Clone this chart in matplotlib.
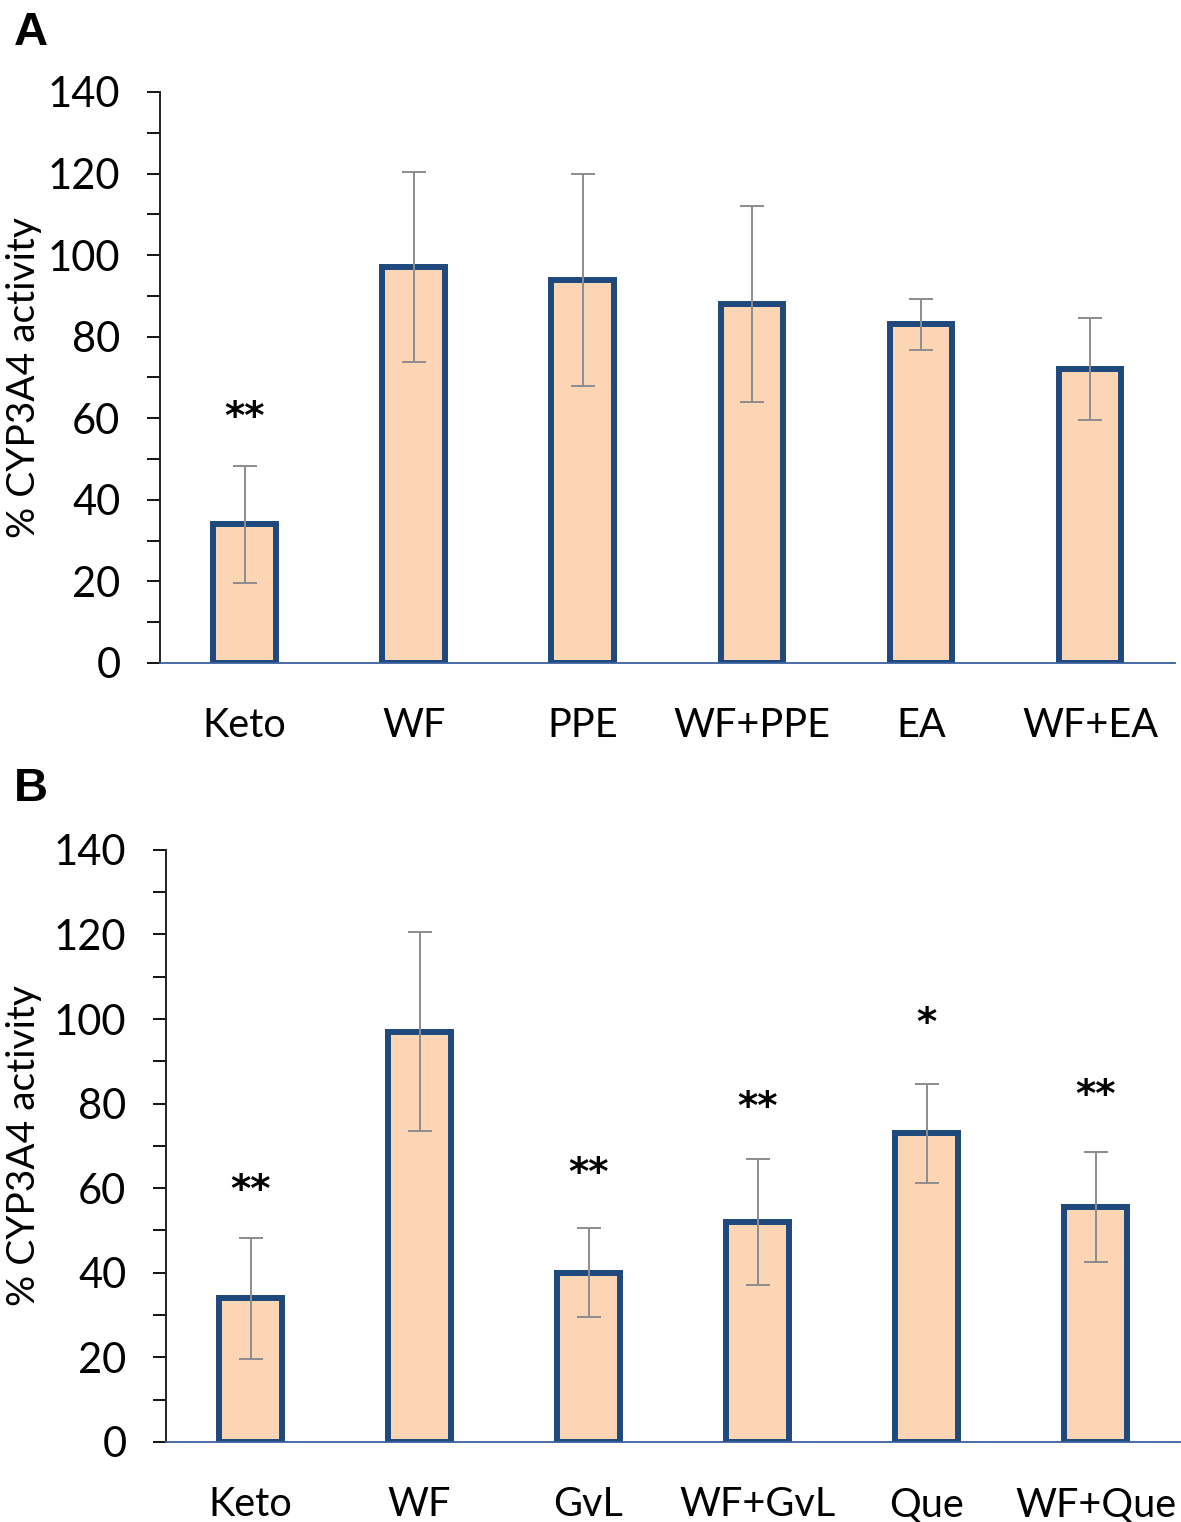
import numpy as np
import matplotlib.pyplot as plt
from matplotlib.ticker import MultipleLocator

# Panel A
labels_a = ['Keto', 'WF', 'PPE', 'WF+PPE', 'EA', 'WF+EA']
means_a = [34, 97, 94, 88, 83, 72]
errs_a = [14.3, 23.3, 26, 24, 6.3, 12.5]
stars_a = ['**', '', '', '', '', '']
star_y_a = [62.7, 0, 0, 0, 0, 0]

# Panel B
labels_b = ['Keto', 'WF', 'GvL', 'WF+GvL', 'Que', 'WF+Que']
means_b = [34, 97, 40, 52, 73, 55.5]
errs_b = [14.3, 23.5, 10.5, 15, 11.7, 13]
stars_b = ['**', '', '**', '**', '*', '**']
star_y_b = [62, 0, 66, 81.6, 101.4, 84.4]

FILL = '#FCD5B4'
EDGE = '#1F497D'
ERR = '#8C8C8C'
FONT = 'Lato'

plt.rcParams['font.family'] = [FONT, 'DejaVu Sans']

fig = plt.figure(figsize=(11.81, 15.22), dpi=100)


def draw_panel(ax, labels, means, errs, stars, star_y, label_x):
    x = np.arange(len(labels))
    ax.bar(x, means, width=0.37, color=FILL, edgecolor=EDGE, linewidth=4.3, zorder=2)
    ax.errorbar(x, means, yerr=errs, fmt='none', ecolor=ERR, elinewidth=1.4,
                capsize=8.5, capthick=1.4, zorder=3)
    for xi, sy, s in zip(x, star_y, stars):
        if s:
            # star_y = where the middle of the asterisks sits
            ax.annotate(s, (xi, sy), xytext=(0, -16), textcoords='offset points',
                        ha='center', va='baseline', fontsize=28, fontweight='bold',
                        fontfamily='DejaVu Sans', color='black')
    ax.set_xlim(-0.5, len(labels) - 0.5)
    ax.set_ylim(0, 140)
    ax.yaxis.set_major_locator(MultipleLocator(20))
    ax.yaxis.set_minor_locator(MultipleLocator(10))
    ax.set_xticks(x)
    ax.set_xticklabels(labels, fontsize=28.5)
    ax.tick_params(axis='x', length=0, pad=32)
    ax.tick_params(axis='y', which='both', direction='out', length=9.5,
                   width=1.3, labelsize=30, pad=19)
    for side in ['top', 'right']:
        ax.spines[side].set_visible(False)
    ax.spines['left'].set_linewidth(1.4)
    ax.spines['left'].set_color('#222222')
    ax.spines['bottom'].set_color('#3A5F9E')
    ax.spines['bottom'].set_linewidth(1.3)
    ax.set_ylabel('% CYP3A4 activity', fontsize=28)
    ax.yaxis.set_label_coords(label_x, 0.5)


ax_a = fig.add_axes([0.1355, 0.5644, 0.859, 0.3752])
draw_panel(ax_a, labels_a, means_a, errs_a, stars_a, star_y_a, -0.116)

ax_b = fig.add_axes([0.1406, 0.0526, 0.8586, 0.3890])
draw_panel(ax_b, labels_b, means_b, errs_b, stars_b, star_y_b, -0.122)

fig.text(0.012, 0.993, 'A', fontsize=34, fontweight='bold',
         fontfamily='Liberation Sans', va='top', ha='left')
fig.text(0.012, 0.496, 'B', fontsize=34, fontweight='bold',
         fontfamily='Liberation Sans', va='top', ha='left')

fig.savefig('out.png', dpi=100)
